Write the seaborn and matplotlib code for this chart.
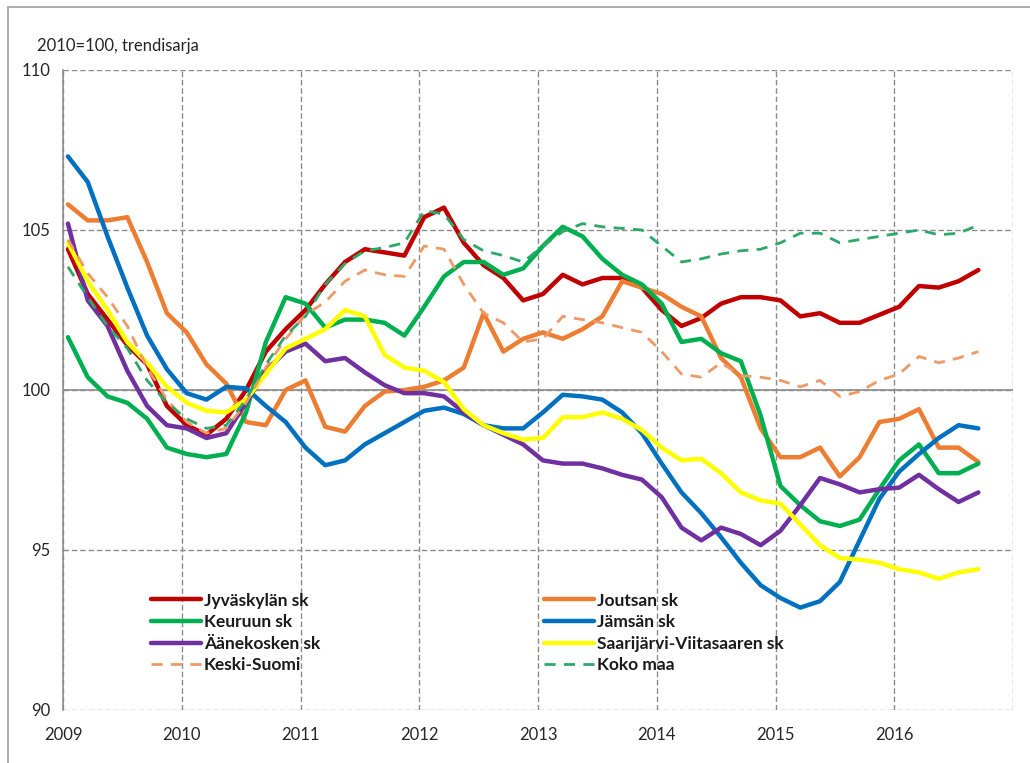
"""
Trend series 2010=100 for Central Finland sub-regions, 2009-2016
"""

import numpy as np
import pandas as pd
import matplotlib.pyplot as plt
from matplotlib.lines import Line2D
import seaborn as sns

# every second month, Jan 2009 ... Sep 2016 (plotted mid-month)
month_index = np.arange(0, 93, 2)
x_years = 2009 + (month_index + 0.5) / 12

jyvaskyla = [104.4, 103.0, 102.2, 101.4, 100.8, 99.5, 98.9, 98.6, 99.1, 100.0,
             101.2, 101.9, 102.5, 103.3, 104.0, 104.4, 104.3, 104.2, 105.4, 105.7,
             104.6, 103.9, 103.5, 102.8, 103.0, 103.6, 103.3, 103.5, 103.5, 103.2,
             102.5, 102.0, 102.25, 102.7, 102.9, 102.9, 102.8, 102.3, 102.4, 102.1,
             102.1, 102.35, 102.6, 103.25, 103.2, 103.4, 103.75]
joutsa = [105.8, 105.3, 105.3, 105.4, 104.0, 102.4, 101.8, 100.8, 100.2, 99.0,
          98.9, 100.0, 100.3, 98.85, 98.7, 99.5, 99.95, 100.0, 100.1, 100.3,
          100.7, 102.4, 101.2, 101.6, 101.8, 101.6, 101.9, 102.3, 103.4, 103.2,
          103.0, 102.6, 102.3, 101.0, 100.4, 98.8, 97.9, 97.9, 98.2, 97.3,
          97.9, 99.0, 99.1, 99.4, 98.2, 98.2, 97.75]
keuruu = [101.65, 100.4, 99.8, 99.6, 99.1, 98.2, 98.0, 97.9, 98.0, 99.3,
          101.5, 102.9, 102.7, 101.95, 102.2, 102.2, 102.1, 101.7, 102.6, 103.55,
          104.0, 104.0, 103.6, 103.8, 104.5, 105.1, 104.8, 104.1, 103.6, 103.3,
          102.7, 101.5, 101.6, 101.15, 100.9, 99.2, 97.0, 96.4, 95.9, 95.75,
          95.95, 96.9, 97.8, 98.3, 97.4, 97.4, 97.7]
jamsa = [107.3, 106.5, 104.8, 103.2, 101.7, 100.65, 99.9, 99.7, 100.1, 100.05,
         99.5, 99.0, 98.2, 97.65, 97.8, 98.3, 98.65, 99.0, 99.35, 99.45,
         99.25, 98.9, 98.8, 98.8, 99.3, 99.85, 99.8, 99.7, 99.3, 98.65,
         97.7, 96.8, 96.15, 95.4, 94.6, 93.9, 93.5, 93.2, 93.4, 94.0,
         95.3, 96.6, 97.45, 98.0, 98.5, 98.9, 98.8]
aanekoski = [105.2, 102.8, 102.0, 100.6, 99.5, 98.9, 98.8, 98.5, 98.65, 99.6,
             100.6, 101.2, 101.45, 100.9, 101.0, 100.55, 100.15, 99.9, 99.9, 99.8,
             99.3, 98.9, 98.6, 98.3, 97.8, 97.7, 97.7, 97.55, 97.35, 97.2,
             96.65, 95.7, 95.3, 95.7, 95.5, 95.15, 95.6, 96.4, 97.25, 97.05,
             96.8, 96.9, 96.95, 97.35, 96.9, 96.5, 96.8]
saarijarvi = [104.6, 103.4, 102.5, 101.5, 100.85, 100.1, 99.6, 99.35, 99.3, 99.7,
              100.5, 101.3, 101.6, 101.9, 102.5, 102.3, 101.1, 100.7, 100.6, 100.25,
              99.4, 98.9, 98.65, 98.45, 98.5, 99.15, 99.15, 99.3, 99.1, 98.75,
              98.2, 97.8, 97.85, 97.4, 96.8, 96.55, 96.45, 95.8, 95.15, 94.75,
              94.7, 94.6, 94.4, 94.3, 94.1, 94.3, 94.4]
keski_suomi = [104.7, 103.65, 102.9, 102.0, 100.7, 99.7, 99.0, 98.65, 98.8, 99.6,
               100.7, 101.6, 102.35, 102.75, 103.4, 103.75, 103.6, 103.55, 104.5, 104.4,
               103.3, 102.4, 102.1, 101.5, 101.6, 102.3, 102.2, 102.1, 101.95, 101.8,
               101.2, 100.5, 100.4, 100.85, 100.45, 100.4, 100.3, 100.1, 100.3, 99.8,
               99.95, 100.3, 100.5, 101.05, 100.85, 101.0, 101.2]
koko_maa = [103.85, 102.9, 102.0, 101.3, 100.3, 99.6, 99.1, 98.8, 98.9, 99.7,
            100.8, 101.7, 102.3, 103.3, 103.95, 104.35, 104.45, 104.6, 105.6, 105.5,
            104.7, 104.35, 104.2, 104.0, 104.5, 104.95, 105.2, 105.1, 105.05, 105.0,
            104.5, 104.0, 104.1, 104.25, 104.35, 104.4, 104.6, 104.9, 104.9, 104.6,
            104.7, 104.8, 104.9, 105.0, 104.85, 104.9, 105.15]

series_names = ["Jyväskylän sk", "Joutsan sk", "Keuruun sk", "Jämsän sk",
                "Äänekosken sk", "Saarijärvi-Viitasaaren sk", "Keski-Suomi", "Koko maa"]
series_values = [jyvaskyla, joutsa, keuruu, jamsa, aanekoski, saarijarvi, keski_suomi, koko_maa]
series_colors = ["#C00000", "#ED7D31", "#00B050", "#0070C0",
                 "#7030A0", "#FFFF00", "#EE9966", "#2EA866"]
dashed = [False, False, False, False, False, False, True, True]

year_ticks = list(range(2009, 2018))
year_labels = [str(y) for y in range(2009, 2017)] + [""]
y_ticks = [90, 95, 100, 105, 110]

# build long dataframe
frames = []
for name, vals in zip(series_names, series_values):
    frames.append(pd.DataFrame({"x": x_years, "value": vals, "series": name}))
df = pd.concat(frames, ignore_index=True)

sns.set_style("white")
plt.rcParams["font.family"] = ["Lato", "DejaVu Sans"]

fig = plt.figure(figsize=(10.30, 7.63), dpi=100)
ax = fig.add_axes([63 / 1030, 1 - 710 / 763, 950 / 1030, 640 / 763])

grid_color = "#8c8c8c"
ax.grid(True, color=grid_color, linestyle=(0, (4, 2)), linewidth=1)
ax.set_axisbelow(True)
ax.axhline(100, color=grid_color, linewidth=1.2, zorder=1)

handles = {}
for name, color, is_dashed in zip(series_names, series_colors, dashed):
    sub = df[df["series"] == name]
    sns.lineplot(data=sub, x="x", y="value", ax=ax, color=color,
                 linewidth=2.0 if is_dashed else 3.2,
                 linestyle=(0, (4, 3)) if is_dashed else "-",
                 solid_capstyle="round", solid_joinstyle="round")
    handles[name] = ax.get_lines()[-1]

ax.set_xlim(2009, 2017)
ax.set_ylim(90, 110)
ax.set_xticks(year_ticks)
ax.set_xticklabels(year_labels)
ax.set_yticks(y_ticks)
ax.set_xlabel("")
ax.set_ylabel("")
ax.tick_params(axis="both", labelsize=12, colors=grid_color, labelcolor="#262626",
               length=6, width=1, direction="out")
ax.tick_params(axis="x", pad=6)
ax.tick_params(axis="y", pad=3)
for side in ["top", "right", "bottom"]:
    ax.spines[side].set_visible(False)
ax.spines["left"].set_color(grid_color)
ax.spines["left"].set_linewidth(1.2)

ax.text(-0.027, 1.025, "2010=100, trendisarja", transform=ax.transAxes,
        fontsize=12, color="#262626", ha="left", va="bottom")

# legend, two columns
order = ["Jyväskylän sk", "Keuruun sk", "Äänekosken sk", "Keski-Suomi",
         "Joutsan sk", "Jämsän sk", "Saarijärvi-Viitasaaren sk", "Koko maa"]
leg = ax.legend([handles[n] for n in order], order, ncol=2, frameon=False,
                loc="upper left", bbox_to_anchor=(0.076, 0.208),
                handlelength=2.9, handletextpad=0.15, columnspacing=12.9,
                labelspacing=0.32, prop={"weight": "bold", "size": 12.5})
for txt in leg.get_texts():
    txt.set_color("#1a1a1a")

# outer chart frame (top and left edge visible)
fig.add_artist(Line2D([8 / 1030, 8 / 1030], [0, 1 - 7 / 763], color="#a0a0a0", lw=1.2))
fig.add_artist(Line2D([8 / 1030, 1], [1 - 7 / 763, 1 - 7 / 763], color="#a0a0a0", lw=1.2))

fig.savefig("out.png", dpi=100)
